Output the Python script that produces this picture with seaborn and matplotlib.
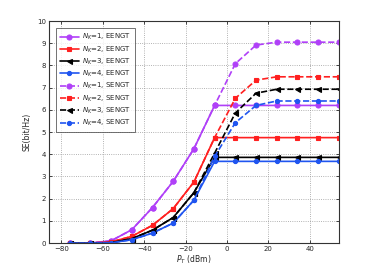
import numpy as np
import pandas as pd
import matplotlib
matplotlib.use("Agg")
import matplotlib.pyplot as plt
import seaborn as sns

## data ----------------------------------------------------------------------
pt = [-76, -66, -56, -46, -36, -26, -16, -6, 4, 14, 24, 34, 44, 54]

ee_1 = [0, 0, 0.10, 0.60, 1.60, 2.78, 4.25, 6.20, 6.20, 6.20, 6.20, 6.20, 6.20, 6.20]
ee_2 = [0, 0, 0.05, 0.30, 0.80, 1.55, 2.75, 4.75, 4.75, 4.75, 4.75, 4.75, 4.75, 4.75]
ee_3 = [0, 0, 0.02, 0.20, 0.58, 1.15, 2.27, 3.86, 3.86, 3.86, 3.86, 3.86, 3.86, 3.86]
ee_4 = [0, 0, 0.01, 0.15, 0.45, 0.90, 1.93, 3.68, 3.68, 3.68, 3.68, 3.68, 3.68, 3.68]

se_1 = [0, 0, 0.10, 0.60, 1.60, 2.78, 4.25, 6.20, 8.08, 8.92, 9.05, 9.05, 9.05, 9.05]
se_2 = [0, 0, 0.05, 0.30, 0.80, 1.55, 2.75, 4.75, 6.52, 7.34, 7.49, 7.49, 7.49, 7.49]
se_3 = [0, 0, 0.02, 0.20, 0.58, 1.15, 2.27, 4.05, 5.86, 6.75, 6.93, 6.93, 6.93, 6.93]
se_4 = [0, 0, 0.01, 0.15, 0.45, 0.90, 1.93, 3.90, 5.42, 6.20, 6.40, 6.40, 6.40, 6.40]

labels = ["$N_K$=1, EENGT", "$N_K$=2, EENGT", "$N_K$=3, EENGT", "$N_K$=4, EENGT",
          "$N_K$=1, SENGT", "$N_K$=2, SENGT", "$N_K$=3, SENGT", "$N_K$=4, SENGT"]
series = [ee_1, ee_2, ee_3, ee_4, se_1, se_2, se_3, se_4]
colors = ["#B040F8", "#FF2020", "#000000", "#2055F0"] * 2
markers = ["o", "s", "<", "."] * 2
msizes = [3.6, 3.2, 3.6, 6] * 2
styles = ["-"] * 4 + ["--"] * 4

## plot ----------------------------------------------------------------------
sns.set_theme(style="ticks")
plt.rcParams["font.family"] = ["DejaVu Sans"]
fig, ax = plt.subplots(figsize=(3.74, 2.74), dpi=100)
fig.subplots_adjust(left=0.131, right=0.906, top=0.923, bottom=0.113)

for y, lab, c, m, ms, ls in zip(series, labels, colors, markers, msizes, styles):
    df = pd.DataFrame({"pt": pt, "se": y})
    sns.lineplot(data=df, x="pt", y="se", ax=ax, color=c, marker=m,
                 markersize=ms, linestyle=ls, linewidth=1.2,
                 markeredgecolor=c, markeredgewidth=0.8, label=lab)

ax.set_xlim(-86, 54)
ax.set_ylim(0, 10)
ax.set_xticks([-80, -60, -40, -20, 0, 20, 40])
ax.set_yticks(range(0, 11))
ax.tick_params(direction="in", labelsize=5, length=2.5, width=0.6,
               top=True, right=True, pad=2)
ax.grid(True, linestyle=":", color="#999999", linewidth=0.6)
for s in ax.spines.values():
    s.set_linewidth(0.8)
    s.set_color("#333333")

ax.set_xlabel("$P_T$ (dBm)", fontsize=5.5, labelpad=1)
ax.set_ylabel("SE(bit/Hz)", fontsize=5.5, labelpad=4)

leg = ax.legend(loc="upper left", bbox_to_anchor=(0.025, 0.968), fontsize=5,
                frameon=True, fancybox=False, edgecolor="#333333",
                handlelength=2.7, labelspacing=0.3, borderpad=0.55,
                handletextpad=0.4, borderaxespad=0)
leg.get_frame().set_linewidth(0.6)

fig.savefig("out.png", dpi=100)
